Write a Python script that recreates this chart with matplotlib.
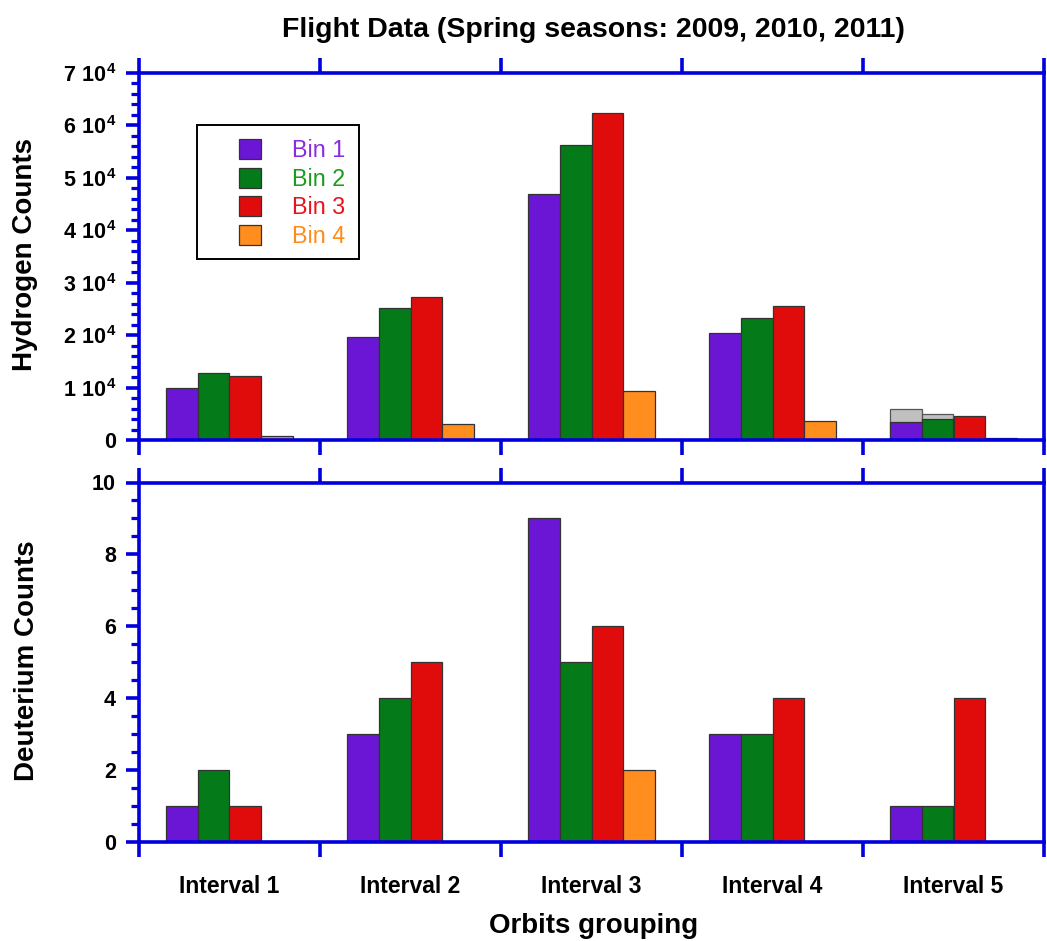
import matplotlib
matplotlib.use("Agg")
import matplotlib.pyplot as plt
import numpy as np
from matplotlib.ticker import MultipleLocator, FuncFormatter, FixedLocator
from matplotlib.patches import Rectangle

plt.rcParams['font.family'] = ['Liberation Sans', 'DejaVu Sans']
plt.rcParams['mathtext.fontset'] = 'custom'
plt.rcParams['mathtext.rm'] = 'Liberation Sans:bold'
plt.rcParams['mathtext.default'] = 'rm'

# ---------------- data ----------------
intervals = ["Interval 1", "Interval 2", "Interval 3", "Interval 4", "Interval 5"]
bins = ["Bin 1", "Bin 2", "Bin 3", "Bin 4"]

hyd_bin1 = [10000, 19700, 46900, 20400, 3400]
hyd_bin2 = [12800, 25200, 56300, 23300, 4000]
hyd_bin3 = [12200, 27300, 62400, 25600, 4600]
hyd_bin4 = [800, 3100, 9400, 3600, 300]

# grey background bars (interval 5, bins 1 and 2)
hyd_grey_bin1 = [0, 0, 0, 0, 6000]
hyd_grey_bin2 = [0, 0, 0, 0, 4900]

deu_bin1 = [1, 3, 9, 3, 1]
deu_bin2 = [2, 4, 5, 3, 1]
deu_bin3 = [1, 5, 6, 4, 4]
deu_bin4 = [0, 0, 2, 0, 0]

bar_colors = ["#6A16D4", "#047A18", "#E00B0B", "#FF8E1E"]
text_colors = ["#8A2BE2", "#1E9A1E", "#E8141B", "#FF8C1A"]
axis_blue = "#0000DD"

# ---------------- figure ----------------
fig = plt.figure(figsize=(10.47, 9.41), dpi=100)
W, H = 1047.0, 941.0
ax1 = fig.add_axes([139 / W, 1 - 440 / H, 905 / W, 367 / H])
ax2 = fig.add_axes([139 / W, 1 - 841.5 / H, 905 / W, 359 / H])

x = np.arange(1, 6)
w = 0.175
offsets = [-1.5, -0.5, 0.5, 1.5]
edge = "#333333"

# grey bars behind
ax1.bar(x + offsets[0] * w, hyd_grey_bin1, w, color="#C0C0C0", edgecolor="#555555", linewidth=0.9, zorder=1)
ax1.bar(x + offsets[1] * w, hyd_grey_bin2, w, color="#C0C0C0", edgecolor="#555555", linewidth=0.9, zorder=1)

hyd = [hyd_bin1, hyd_bin2, hyd_bin3, hyd_bin4]
deu = [deu_bin1, deu_bin2, deu_bin3, deu_bin4]
handles = []
for i in range(4):
    b = ax1.bar(x + offsets[i] * w, hyd[i], w, color=bar_colors[i], edgecolor=edge, linewidth=0.9,
                zorder=2, label=bins[i])
    handles.append(b)
    ax2.bar(x + offsets[i] * w, deu[i], w, color=bar_colors[i], edgecolor=edge, linewidth=0.9, zorder=2)

for ax in (ax1, ax2):
    ax.set_xlim(0.5, 5.5)
    for s in ax.spines.values():
        s.set_color(axis_blue)
        s.set_linewidth(2.6)
        s.set_zorder(3)
    ax.xaxis.set_major_locator(FixedLocator([0.5, 1.5, 2.5, 3.5, 4.5, 5.5]))
    ax.tick_params(axis='x', which='major', direction='out', top=True, bottom=True,
                   labelbottom=False, labeltop=False, length=11, width=2.6, color=axis_blue)
    ax.tick_params(axis='y', which='major', direction='out', left=True, right=False,
                   length=9.6, width=2.6, color=axis_blue, labelsize=15.5, pad=7)
    ax.tick_params(axis='y', which='minor', direction='out', left=True, right=False,
                   length=5.5, width=2.3, color=axis_blue)

ax1.set_ylim(0, 70000)
ax1.yaxis.set_major_locator(MultipleLocator(10000))
ax1.yaxis.set_minor_locator(MultipleLocator(2000))


def hfmt(v, pos):
    n = int(round(v / 10000))
    if n == 0:
        return "0"
    return r"$%d\ 10^{4}$" % n


ax1.yaxis.set_major_formatter(FuncFormatter(hfmt))

ax2.set_ylim(0, 10)
ax2.yaxis.set_major_locator(MultipleLocator(2))
ax2.yaxis.set_minor_locator(MultipleLocator(0.5))

for ax in (ax1, ax2):
    for lab in ax.get_yticklabels():
        lab.set_fontweight('bold')
        lab.set_fontsize(15.5)

# interval labels as minor x ticks on lower axis
ax2.set_xticks(x, minor=True)
ax2.set_xticklabels(intervals, minor=True, fontsize=16.5, fontweight='bold')
ax2.tick_params(axis='x', which='minor', length=0, pad=24, labelbottom=True)
ax1.tick_params(axis='x', which='minor', length=0)

# legend
leg = ax1.legend(handles=handles, labels=bins, loc='upper left',
                 bbox_to_anchor=(239 / W, 1 - 139 / H), bbox_transform=fig.transFigure,
                 frameon=False, fontsize=16.8, handlelength=0.95, handleheight=0.95,
                 handletextpad=1.3, labelspacing=0.24, borderpad=0, borderaxespad=0)
for t, c in zip(leg.get_texts(), text_colors):
    t.set_color(c)
fig.patches.append(Rectangle((197 / W, 1 - 259 / H), 162 / W, 134 / H, transform=fig.transFigure,
                             fill=False, edgecolor='black', linewidth=1.4, zorder=5))

# titles and labels
fig.text(593 / W, 1 - 30 / H, "Flight Data (Spring seasons: 2009, 2010, 2011)",
         ha='center', va='center', fontsize=20.5, fontweight='bold')
fig.text(594 / W, 1 - 926 / H, "Orbits grouping", ha='center', va='center',
         fontsize=20, fontweight='bold')
fig.text(25 / W, 1 - 255 / H, "Hydrogen Counts", ha='center', va='center', rotation=90,
         fontsize=20, fontweight='bold')
fig.text(27 / W, 1 - 661 / H, "Deuterium Counts", ha='center', va='center', rotation=90,
         fontsize=20, fontweight='bold')

fig.savefig("out.png", dpi=100)
